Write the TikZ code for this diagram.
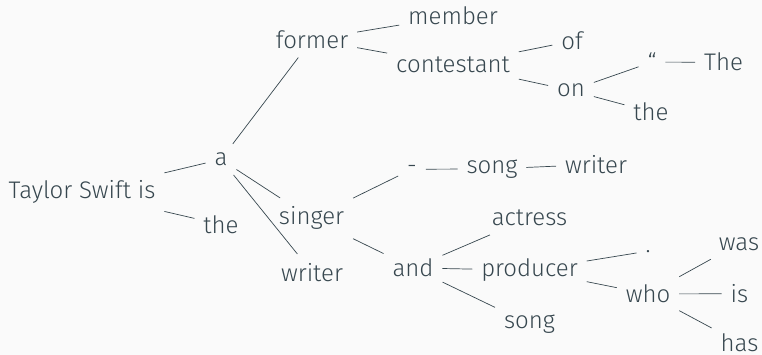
\documentclass[tikz,border=0pt]{standalone}
\usepackage{fontspec}
\setmainfont{Fira Sans Light}
\usepackage{tikz}
\usetikzlibrary{positioning}
\definecolor{inkgray}{RGB}{55, 71, 79}
\definecolor{paper}{RGB}{250, 250, 250}

\begin{document}
\begin{tikzpicture}[
    x=1pt, y=-1pt,
    word/.style={anchor=base, inner sep=9pt, outer sep=0pt, text=inkgray, font=\fontsize{24}{28}\selectfont},
    edge/.style={draw=inkgray, line width=0.7pt}
]
    \path[use as bounding box, fill=paper] (0,0) rectangle (762,355);

    % Root and first words
    \node[word] (root) at (82, 199) {Taylor Swift is};
    \node[word] (a) at (221, 165.7) {a};
    \node[word] (theA) at (221, 233.3) {the};

    % Upper branch
    \node[word] (former) at (312, 48.3) {former};
    \node[word] (member) at (453, 25) {member};
    \node[word] (contestant) at (453, 72.7) {contestant};
    \node[word] (of) at (572, 50) {of};
    \node[word] (on) at (571, 96.7) {on};
    \node[word] (quote) at (652, 71) {``};
    \node[word] (The) at (723.5, 71) {The};
    \node[word] (theB) at (651, 120.7) {the};

    % Middle branch
    \node[word] (singer) at (311.5, 225) {singer};
    \node[word] (writerA) at (312, 281) {writer};
    \node[word] (dash) at (412, 173.3) {-};
    \node[word] (songA) at (492, 173.3) {song};
    \node[word] (writerB) at (596, 173.3) {writer};

    % Lower branch
    \node[word] (and) at (413, 276.7) {and};
    \node[word] (actress) at (529.5, 225.7) {actress};
    \node[word] (producer) at (529.5, 276.7) {producer};
    \node[word] (songB) at (529.5, 328.3) {song};
    \node[word] (dot) at (648, 252) {.};
    \node[word] (who) at (648, 302.7) {who};
    \node[word] (was) at (739, 250) {was};
    \node[word] (is) at (739.5, 302.7) {is};
    \node[word] (has) at (739.5, 351.7) {has};

    % Edges
    \draw[edge] (root) -- (a);
    \draw[edge] (root) -- (theA);
    \draw[edge] (a) -- (former);
    \draw[edge] (a) -- (singer);
    \draw[edge] (a) -- (writerA);
    \draw[edge] (former) -- (member);
    \draw[edge] (former) -- (contestant);
    \draw[edge] (contestant) -- (of);
    \draw[edge] (contestant) -- (on);
    \draw[edge] (on) -- (quote);
    \draw[edge] (on) -- (theB);
    \draw[edge] (quote) -- (The);
    \draw[edge] (singer) -- (dash);
    \draw[edge] (singer) -- (and);
    \draw[edge] (dash) -- (songA);
    \draw[edge] (songA) -- (writerB);
    \draw[edge] (and) -- (actress);
    \draw[edge] (and) -- (producer);
    \draw[edge] (and) -- (songB);
    \draw[edge] (producer) -- (dot);
    \draw[edge] (producer) -- (who);
    \draw[edge] (who) -- (was);
    \draw[edge] (who) -- (is);
    \draw[edge] (who) -- (has);
\end{tikzpicture}
\end{document}
